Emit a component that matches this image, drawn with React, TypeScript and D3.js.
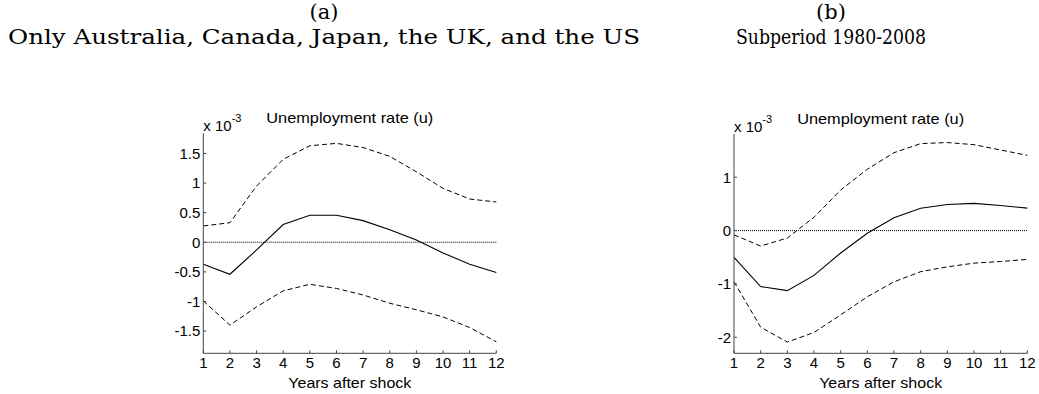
import React from "react";
import * as d3 from "d3";

// Impulse responses of the unemployment rate, in units of 1e-3
const years = [1, 2, 3, 4, 5, 6, 7, 8, 9, 10, 11, 12];

const aMid = [-0.37, -0.54, -0.13, 0.3, 0.456, 0.456, 0.365, 0.21, 0.04, -0.18, -0.37, -0.51];
const aUpper = [0.275, 0.33, 0.95, 1.4, 1.63, 1.67, 1.6, 1.45, 1.19, 0.91, 0.73, 0.68];
const aLower = [-0.99, -1.4, -1.09, -0.82, -0.71, -0.78, -0.89, -1.03, -1.14, -1.26, -1.44, -1.68];

const bMid = [-0.5, -1.05, -1.125, -0.84, -0.42, -0.05, 0.24, 0.42, 0.49, 0.51, 0.47, 0.42];
const bUpper = [-0.08, -0.29, -0.14, 0.25, 0.76, 1.15, 1.46, 1.63, 1.65, 1.61, 1.51, 1.41];
const bLower = [-0.96, -1.81, -2.09, -1.91, -1.58, -1.24, -0.96, -0.77, -0.68, -0.61, -0.58, -0.54];

const aTicks = [-1.5, -1, -0.5, 0, 0.5, 1, 1.5];
const bTicks = [-2, -1, 0, 1];

const panelA = { label: "(a)", subtitle: "Only Australia, Canada, Japan, the UK, and the US" };
const panelB = { label: "(b)", subtitle: "Subperiod 1980-2008" };
const plotTitle = "Unemployment rate (u)";
const xTitle = "Years after shock";

const sans = "Liberation Sans, Arial, sans-serif";
const serif = "DejaVu Serif, serif";

type PanelProps = {
  left: number;
  right: number;
  top: number;
  bottom: number;
  yDomain: [number, number];
  ticks: number[];
  mid: number[];
  upper: number[];
  lower: number[];
};

function Panel({ left, right, top, bottom, yDomain, ticks, mid, upper, lower }: PanelProps) {
  const x = d3.scaleLinear().domain([1, 12]).range([left, right]);
  const y = d3.scaleLinear().domain(yDomain).range([bottom, top]);
  const line = d3
    .line<number>()
    .x((_, i) => x(years[i]))
    .y((v) => y(v));
  const axisColor = "#444";
  const fmt = (v: number) => String(v);
  const cx = (left + right) / 2;
  return (
    <g>
      {/* zero reference */}
      <line x1={x(1)} x2={x(12)} y1={y(0)} y2={y(0)} stroke="#000" strokeWidth={1} strokeDasharray="1,1" />
      <path d={line(upper) || ""} fill="none" stroke="#000" strokeWidth={1} strokeDasharray="5,3" />
      <path d={line(lower) || ""} fill="none" stroke="#000" strokeWidth={1} strokeDasharray="5,3" />
      <path d={line(mid) || ""} fill="none" stroke="#000" strokeWidth={1.1} />
      {/* axes */}
      <line x1={left} x2={left} y1={top} y2={bottom} stroke={axisColor} strokeWidth={1} />
      <line x1={left} x2={right} y1={bottom} y2={bottom} stroke={axisColor} strokeWidth={1} />
      {years.map((t) => (
        <g key={"x" + t}>
          <line x1={x(t)} x2={x(t)} y1={bottom} y2={bottom - 3} stroke={axisColor} />
          <text x={x(t)} y={bottom + 15} fontSize={15} fontFamily={sans} textAnchor="middle" fill="#000">
            {t}
          </text>
        </g>
      ))}
      {ticks.map((t) => (
        <g key={"y" + t}>
          <line x1={left} x2={left + 3} y1={y(t)} y2={y(t)} stroke={axisColor} />
          <text x={left - 3} y={y(t) + 5.3} fontSize={15} fontFamily={sans} textAnchor="end" fill="#000">
            {fmt(t)}
          </text>
        </g>
      ))}
      <text x={cx} y={bottom + 35} fontSize={15} fontFamily={sans} textAnchor="middle" fill="#000"
        textLength={123} lengthAdjust="spacingAndGlyphs">
        {xTitle}
      </text>
      <text x={cx} y={top - 10} fontSize={15} fontFamily={sans} textAnchor="middle" fill="#000"
        textLength={167} lengthAdjust="spacingAndGlyphs">
        {plotTitle}
      </text>
      <text x={left} y={top - 2} fontSize={15} fontFamily={sans} fill="#000">
        x 10
        <tspan fontSize={11} dy={-9}>-3</tspan>
      </text>
    </g>
  );
}

export default function App() {
  return (
    <svg width={1039} height={394} style={{ position: "absolute", left: 0, top: 0, background: "#fff" }}>
      <rect width={1039} height={394} fill="#fff" />
      <text x={324} y={19} fontSize={21} fontFamily={serif} textAnchor="middle">{panelA.label}</text>
      <text x={324} y={44} fontSize={21} fontFamily={serif} textAnchor="middle"
        textLength={632} lengthAdjust="spacingAndGlyphs">{panelA.subtitle}</text>
      <text x={831} y={19} fontSize={21} fontFamily={serif} textAnchor="middle">{panelB.label}</text>
      <text x={831} y={44} fontSize={21} fontFamily={serif} textAnchor="middle"
        textLength={190} lengthAdjust="spacingAndGlyphs">{panelB.subtitle}</text>
      <Panel
        left={203.3}
        right={496.3}
        top={133.3}
        bottom={353.3}
        yDomain={[-1.875, 1.84]}
        ticks={aTicks}
        mid={aMid}
        upper={aUpper}
        lower={aLower}
      />
      <Panel
        left={734}
        right={1027.3}
        top={134}
        bottom={353.3}
        yDomain={[-2.3, 1.81]}
        ticks={bTicks}
        mid={bMid}
        upper={bUpper}
        lower={bLower}
      />
    </svg>
  );
}
